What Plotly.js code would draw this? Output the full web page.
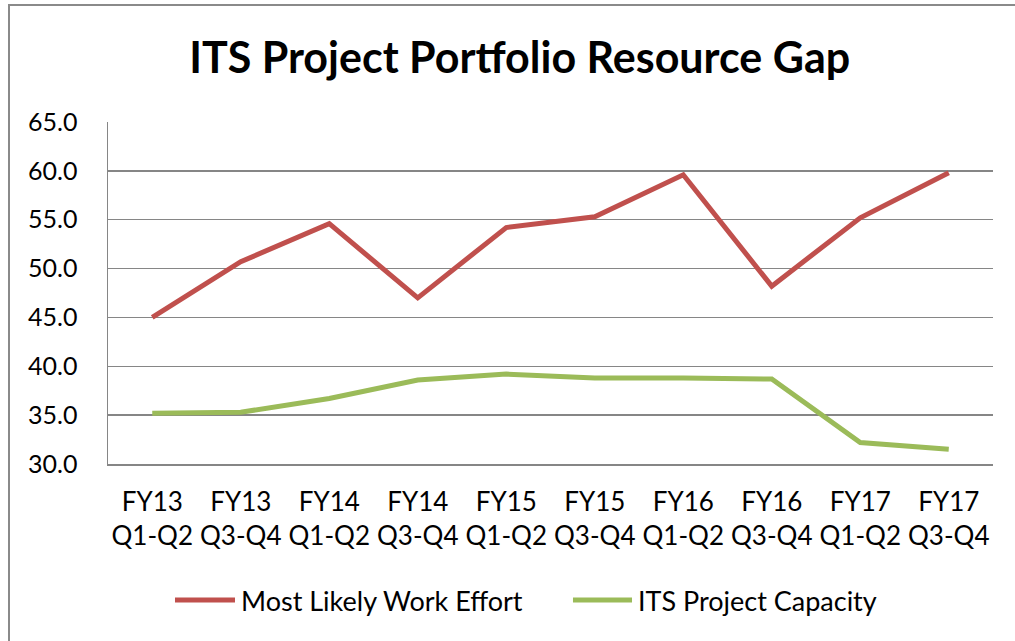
<!DOCTYPE html>
<html>
<head>
<meta charset="utf-8">
<script src="https://cdn.plot.ly/plotly-3.0.1.min.js"></script>
<style>
  html, body { margin: 0; padding: 0; background: #fff; }
  #wrap { position: relative; width: 1015px; height: 641px; overflow: hidden; }
  #chart { position: absolute; left: 0; top: 0; width: 1015px; height: 641px; }
  #frame { position: absolute; left: 8px; top: 4px; width: 1100px; height: 700px;
           border-left: 2px solid #8a8a8a; border-top: 2px solid #8a8a8a; pointer-events: none; }
</style>
</head>
<body>
<div id="wrap">
  <div id="chart"></div>
  <div id="frame"></div>
</div>
<script>
const categories = [
  "FY13<br>Q1-Q2", "FY13<br>Q3-Q4", "FY14<br>Q1-Q2", "FY14<br>Q3-Q4", "FY15<br>Q1-Q2",
  "FY15<br>Q3-Q4", "FY16<br>Q1-Q2", "FY16<br>Q3-Q4", "FY17<br>Q1-Q2", "FY17<br>Q3-Q4"
];
const workEffort = [45.0, 50.7, 54.6, 47.0, 54.2, 55.3, 59.6, 48.2, 55.2, 59.8];
const capacity   = [35.2, 35.3, 36.7, 38.6, 39.2, 38.8, 38.8, 38.7, 32.2, 31.5];
const seriesNames = ["Most Likely Work Effort", "ITS Project Capacity"];
const seriesColors = ["#C0504D", "#9BBB59"];

const FONT = "Lato, 'Open Sans', sans-serif";

const traces = [
  { x: categories, y: workEffort, name: seriesNames[0], type: "scatter", mode: "lines",
    line: { color: seriesColors[0], width: 5 } },
  { x: categories, y: capacity, name: seriesNames[1], type: "scatter", mode: "lines",
    line: { color: seriesColors[1], width: 5 } }
];

// custom legend (longer key lines, like the original)
const legendY = -0.398;
const legendItems = [
  { x0: 0.0757, x1: 0.1435, tx: 0.1480 },
  { x0: 0.5254, x1: 0.5921, tx: 0.5966 }
];
const shapes = legendItems.map((it, i) => ({
  type: "line", xref: "paper", yref: "paper", x0: it.x0, x1: it.x1, y0: legendY, y1: legendY,
  line: { color: seriesColors[i], width: 5 }
}));
const annotations = legendItems.map((it, i) => ({
  xref: "paper", yref: "paper", x: it.tx, y: legendY, xanchor: "left", yanchor: "middle",
  text: seriesNames[i], showarrow: false, font: { family: FONT, size: 27, color: "#000" }
}));

const layout = {
  width: 1015, height: 641,
  margin: { l: 108, r: 22, t: 122, b: 177 },
  paper_bgcolor: "#ffffff", plot_bgcolor: "#ffffff",
  font: { family: FONT, color: "#000000", size: 25 },
  title: { text: "<b>ITS Project Portfolio Resource Gap</b>", font: { family: FONT, size: 43, color: "#000" },
           x: 0.512, xref: "container", xanchor: "center", y: 0.91, yref: "container", yanchor: "middle" },
  xaxis: {
    type: "category", range: [-0.5, 9.5], showgrid: false, zeroline: false,
    showline: true, linecolor: "#868686", linewidth: 1.5, ticks: "",
    tickfont: { family: FONT, size: 26, color: "#000" }, ticklabelstandoff: 14
  },
  yaxis: {
    range: [30, 65], dtick: 5, tick0: 30, tickformat: ".1f",
    showgrid: true, gridcolor: "#868686", gridwidth: 1.5, zeroline: false,
    showline: true, linecolor: "#868686", linewidth: 1.5, ticks: "",
    tickfont: { family: FONT, size: 25, color: "#000" }, ticklabelstandoff: 24
  },
  showlegend: false,
  shapes: shapes,
  annotations: annotations
};

Plotly.newPlot("chart", traces, layout, { displayModeBar: false, staticPlot: true });
</script>
</body>
</html>
